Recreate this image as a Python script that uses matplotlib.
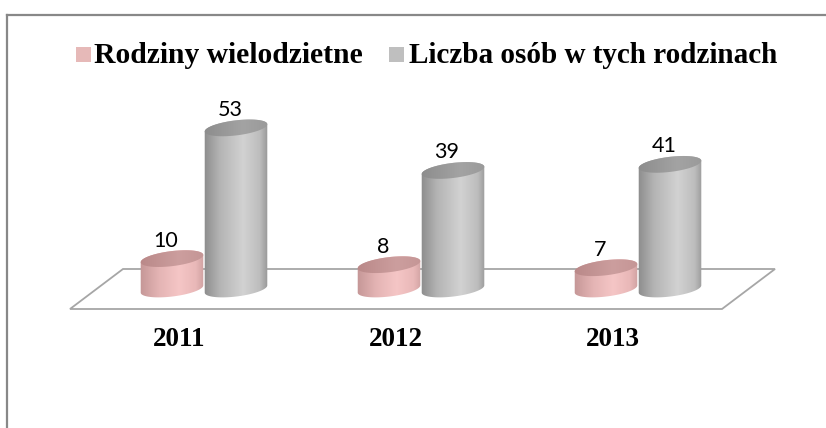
import numpy as np
import matplotlib
matplotlib.use("Agg")
import matplotlib.pyplot as plt
from matplotlib.patches import Polygon, Rectangle
from matplotlib.colors import LinearSegmentedColormap
from matplotlib.lines import Line2D

# ---- data ----
years = ["2011", "2012", "2013"]
families = [10, 8, 7]          # Rodziny wielodzietne
persons = [53, 39, 41]         # Liczba osób w tych rodzinach
series_names = ["Rodziny wielodzietne", "Liczba osób w tych rodzinach"]

W, H = 826, 428
fig = plt.figure(figsize=(W / 100, H / 100), dpi=100)
ax = fig.add_axes([0, 0, 1, 1])

# axes mapping: x in category units, y in value units
PX_PER_CAT = 217.0
PX_PER_VAL = 3.04
X0_PIX = 204.0     # pixel x of category 0
Y0_PIX = 289.0     # pixel y of value 0
ax.set_xlim(-X0_PIX / PX_PER_CAT, (W - X0_PIX) / PX_PER_CAT)
ax.set_ylim((Y0_PIX - H) / PX_PER_VAL, Y0_PIX / PX_PER_VAL)
ax.axis("off")

def dx(p):
    return p / PX_PER_CAT

def dy(p):
    return p / PX_PER_VAL

# floor parallelogram
floor = Polygon([(dx(-134), dy(-20)), (dx(-81), dy(20)), (dx(571), dy(20)), (dx(518), dy(-20))],
                closed=True, facecolor="white", edgecolor="#a6a6a6", lw=1.3, zorder=1)
ax.add_patch(floor)

A_PX, B_PX, THETA = 31.5, 7.5, np.deg2rad(7)

def ell(t):
    x = A_PX * np.cos(t) * np.cos(THETA) - B_PX * np.sin(t) * np.sin(THETA)
    y = A_PX * np.cos(t) * np.sin(THETA) + B_PX * np.sin(t) * np.cos(THETA)
    return x, y

t0 = np.arctan2(-B_PX * np.sin(THETA), A_PX * np.cos(THETA))

def cylinder(xc, value, side_cmap, top_cmap, z):
    top_y = value
    t_up = np.linspace(t0, t0 + np.pi, 60)
    t_lo = np.linspace(t0 + np.pi, t0 + 2 * np.pi, 60)
    ux, uy = ell(t_up)
    lx, ly = ell(t_lo)
    xs = np.concatenate([xc + dx(ux), xc + dx(lx)])
    ys = np.concatenate([top_y + dy(uy), 0 + dy(ly)])
    body = Polygon(np.column_stack([xs, ys]), closed=True, facecolor="none", edgecolor="none")
    ax.add_patch(body)
    grad = np.linspace(0, 1, 256).reshape(1, -1)
    ext = [xc - dx(A_PX + 2), xc + dx(A_PX + 2), min(ys) - 1, max(ys) + 1]
    im = ax.imshow(grad, cmap=side_cmap, extent=ext, aspect="auto", zorder=z, interpolation="bilinear")
    im.set_clip_path(body)
    tt = np.linspace(0, 2 * np.pi, 120)
    ex, ey = ell(tt)
    top = Polygon(np.column_stack([xc + dx(ex), top_y + dy(ey)]), closed=True,
                  facecolor="none", edgecolor="none")
    ax.add_patch(top)
    im2 = ax.imshow(grad, cmap=top_cmap, extent=ext, aspect="auto", zorder=z + 0.1,
                    interpolation="bilinear")
    im2.set_clip_path(top)

gray_side = LinearSegmentedColormap.from_list("gs", [(0, "#8a8a8a"), (0.25, "#b4b4b4"), (0.6, "#d2d2d2"),
                                                     (0.85, "#bdbdbd"), (1, "#8e8e8e")])
gray_top = LinearSegmentedColormap.from_list("gt", [(0, "#8c8c8c"), (0.6, "#a3a3a3"), (1, "#999999")])
pink_side = LinearSegmentedColormap.from_list("ps", [(0, "#c39595"), (0.3, "#e4b4b4"), (0.6, "#f5c6c6"),
                                                     (0.85, "#e9b8b8"), (1, "#c99c9c")])
pink_top = LinearSegmentedColormap.from_list("pt", [(0, "#b98888"), (0.6, "#cc9e9e"), (1, "#c49595")])

OFF = dx(32)
label_font = dict(family=["Lato", "DejaVu Sans"], fontsize=15.5, color="black")
for i, (f, p) in enumerate(zip(families, persons)):
    cylinder(i - OFF, f, pink_side, pink_top, 3)
    cylinder(i + OFF, p, gray_side, gray_top, 4)
    ax.text(i - OFF - dx(6), f + dy(12), str(f), ha="center", va="baseline", zorder=6, **label_font)
    ax.text(i + OFF - dx(6), p + dy(12), str(p), ha="center", va="baseline", zorder=6, **label_font)
    ax.text(i - dx(25), dy(-50), years[i], ha="center", va="center",
            family="Liberation Serif", fontweight="bold", fontsize=19.5, zorder=6)

# frame (chart border, partly cropped)
fig.add_artist(Line2D([7 / W, 1], [1 - 14.5 / H, 1 - 14.5 / H], color="#888888", lw=1.6))
fig.add_artist(Line2D([7.3 / W, 7.3 / W], [0, 1 - 14.5 / H], color="#888888", lw=1.6))

# legend
base = 1 - 63 / H
fig.add_artist(Rectangle((76 / W, 1 - 62 / H), 15 / W, 15 / H, transform=fig.transFigure,
                         facecolor="#e6b9b8", edgecolor="none"))
fig.text(94 / W, base, series_names[0], ha="left", va="baseline", family="Liberation Serif",
         fontweight="bold", fontsize=21.3)
fig.add_artist(Rectangle((389 / W, 1 - 62 / H), 15 / W, 15 / H, transform=fig.transFigure,
                         facecolor="#bfbfbf", edgecolor="none"))
fig.text(409 / W, base, series_names[1], ha="left", va="baseline", family="Liberation Serif",
         fontweight="bold", fontsize=21.0)

fig.savefig("out.png", dpi=100)
